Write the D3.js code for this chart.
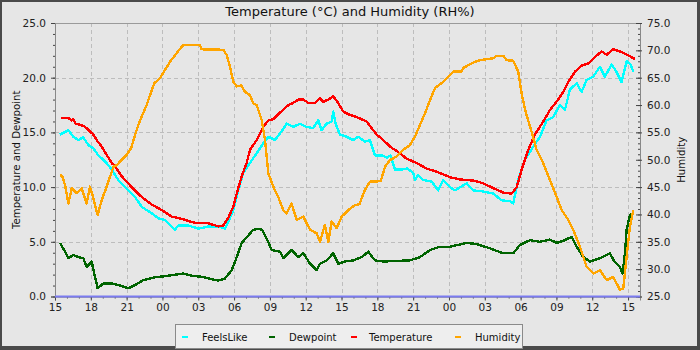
<!DOCTYPE html>
<html>
<head>
<meta charset="utf-8">
<script src="https://cdn.jsdelivr.net/npm/d3@7"></script>
<style>
  html, body { margin: 0; padding: 0; background: #4a4a4a; }
  svg { display: block; font-family: "DejaVu Sans", sans-serif; }
</style>
</head>
<body>
<svg id="chart" width="700" height="350"></svg>
<script>
// Hours since 15:00 on the first day, paired with readings.
const startTime = new Date(2024, 5, 10, 15, 0, 0);
const spanHours = 49;

const seriesNames = ["FeelsLike", "Dewpoint", "Temperature", "Humidity"];
const seriesColors = ["#00ffff", "#006400", "#ff0000", "#ffa500"];

const leftTicks = [0, 5, 10, 15, 20, 25];
const rightTicks = [25, 30, 35, 40, 45, 50, 55, 60, 65, 70, 75];

const feelsLike = [
  [0.42,14.8],[1.12,15.2],[1.53,14.6],[1.95,14.3],[2.37,14.55],[2.79,13.85],[3.21,13.55],[3.63,12.9],
  [4.05,12.5],[4.47,12.0],[4.75,11.6],[5.30,10.65],[5.86,10.0],[6.70,9.1],[7.26,8.2],[8.10,7.6],
  [8.65,7.15],[9.21,7.0],[10.05,6.1],[10.33,6.5],[11.17,6.5],[12.0,6.2],[12.84,6.4],[13.68,6.4],
  [14.24,6.2],[14.52,6.8],[14.93,7.9],[15.35,9.7],[15.77,11.3],[16.33,12.2],[16.89,13.1],[17.45,14.0],
  [17.87,14.6],[18.43,14.3],[18.98,15.1],[19.4,15.8],[19.96,15.5],[20.52,15.8],[21.08,15.5],[21.63,15.4],
  [22.05,16.1],[22.33,15.2],[22.75,15.8],[23.17,16.0],[23.31,16.9],[23.5,15.8],[23.87,14.8],[24.43,14.6],
  [24.98,14.3],[25.40,14.6],[25.96,14.15],[26.38,14.3],[26.8,12.9],[27.36,12.9],[27.8,12.7],[28.1,12.9],
  [28.48,11.6],[29.04,11.6],[29.5,11.7],[30.01,11.3],[30.15,10.65],[30.4,11.1],[30.85,10.65],[31.55,10.5],
  [32.1,9.7],[32.52,10.65],[33.08,10.0],[33.5,9.7],[34.48,10.35],[35.03,9.7],[35.87,9.6],[36.71,9.4],
  [37.41,8.8],[38.11,8.7],[38.38,8.5],[38.80,10.65],[39.36,12.5],[40.06,13.7],[40.62,14.6],[41.18,16.1],
  [41.73,16.4],[42.29,17.5],[42.71,17.05],[43.13,18.9],[43.69,19.5],[44.11,18.7],[44.53,19.8],[45.09,20.1],
  [45.64,21.0],[46.06,20.1],[46.62,21.2],[47.0,20.6],[47.46,19.6],[47.88,21.5],[48.2,21.2],[48.44,20.55]
];

const dewpoint = [
  [0.42,4.9],[0.84,4.1],[1.12,3.5],[1.53,3.8],[1.95,3.6],[2.37,3.5],[2.65,2.7],[3.07,3.2],
  [3.35,1.8],[3.57,0.75],[4.05,1.2],[4.75,1.2],[5.30,1.05],[5.72,0.9],[6.14,0.75],[6.70,1.05],
  [7.40,1.5],[8.38,1.75],[9.49,1.9],[10.75,2.1],[11.45,1.9],[12.28,1.8],[13.68,1.45],[14.24,1.65],
  [14.80,2.4],[15.22,3.6],[15.64,4.9],[16.05,5.4],[16.61,6.1],[17.17,6.2],[17.4,6.0],[17.73,5.3],
  [18.15,4.25],[18.84,4.1],[19.12,3.5],[19.82,4.25],[20.38,3.6],[20.80,3.95],[21.36,3.0],[21.92,2.4],
  [22.2,3.0],[22.75,3.3],[23.31,3.95],[23.73,3.0],[24.29,3.2],[24.98,3.3],[25.69,3.6],[26.24,4.1],
  [26.80,3.3],[27.5,3.2],[28.62,3.25],[29.73,3.3],[30.57,3.6],[31.41,4.25],[32.24,4.55],[33.08,4.55],
  [34.48,4.9],[35.32,4.8],[36.43,4.4],[37.55,3.95],[38.38,3.95],[38.94,4.7],[39.78,5.15],[40.62,5.0],
  [41.46,5.2],[42.02,4.9],[42.6,5.1],[43.27,5.45],[43.69,4.55],[44.25,3.6],[44.81,3.2],[45.64,3.5],
  [46.48,3.95],[46.8,3.3],[47.32,2.7],[47.54,2.1],[47.74,3.95],[47.88,6.1],[48.16,7.45],[48.49,7.6]
];

const temperature = [
  [0.50,16.3],[1.12,16.3],[1.40,16.1],[1.53,16.2],[1.73,15.8],[2.37,15.6],[2.65,15.4],[2.93,15.1],
  [3.21,14.8],[3.49,14.3],[3.91,13.7],[4.19,13.2],[4.47,12.7],[4.75,12.2],[5.03,11.9],[5.58,11.0],
  [6.42,10.0],[7.26,9.1],[8.10,8.4],[8.94,7.9],[9.77,7.3],[10.61,7.1],[11.45,6.8],[12.0,6.7],
  [12.84,6.7],[13.68,6.4],[14.10,6.5],[14.52,7.2],[14.93,8.2],[15.22,9.4],[15.64,11.0],[16.05,12.2],
  [16.33,13.4],[16.89,14.3],[17.45,15.5],[17.87,16.1],[18.28,16.2],[18.84,16.8],[19.26,17.2],[19.54,17.5],
  [19.96,17.7],[20.38,18.0],[20.8,18.0],[21.22,17.7],[21.78,17.7],[22.19,18.1],[22.47,17.8],[22.89,18.0],
  [23.31,18.3],[23.65,17.8],[24.15,16.9],[24.71,16.6],[25.27,16.4],[26.1,16.0],[26.52,15.4],[26.94,14.8],
  [27.5,14.3],[28.06,13.7],[28.75,13.2],[29.45,12.6],[30.29,12.2],[31.13,11.7],[31.97,11.4],[32.66,11.1],
  [33.08,10.9],[33.92,10.7],[35.03,10.6],[35.87,10.35],[36.71,9.9],[37.55,9.5],[38.25,9.4],[38.67,10.0],
  [39.09,11.6],[39.64,13.4],[40.20,14.8],[40.9,16.0],[41.46,17.05],[42.15,18.0],[42.57,18.7],[42.99,19.6],
  [43.55,20.55],[44.11,21.1],[44.67,21.3],[45.23,21.9],[45.79,22.4],[46.21,22.1],[46.76,22.6],[47.32,22.4],
  [47.74,22.2],[48.58,21.7]
];

const humidity = [
  [0.42,47.2],[0.6,47.0],[0.84,45.4],[1.12,42.0],[1.40,44.8],[1.82,43.9],[2.23,44.8],[2.65,42.0],
  [2.93,45.1],[3.21,43.0],[3.57,39.9],[3.91,42.6],[4.33,45.1],[4.61,46.9],[4.89,48.7],[5.17,49.0],
  [5.58,50.0],[6.00,50.9],[6.37,52.1],[6.70,54.5],[6.98,56.35],[7.32,58.2],[7.68,60.0],[7.96,61.8],
  [8.32,64.0],[8.79,64.9],[9.21,66.4],[9.63,67.9],[10.19,69.5],[10.75,71.0],[12.14,71.0],[12.28,70.2],
  [14.10,70.1],[14.38,69.15],[14.66,67.0],[14.93,64.3],[15.22,63.4],[15.6,63.6],[15.91,62.4],[16.33,61.8],
  [16.61,60.3],[16.89,60.0],[17.31,57.3],[17.59,53.6],[17.87,47.5],[18.28,45.1],[18.70,43.2],[19.12,40.8],
  [19.40,40.2],[19.82,42.0],[20.24,39.0],[20.80,39.6],[21.36,37.2],[21.92,36.55],[22.19,35.0],[22.61,38.1],
  [22.89,35.0],[23.17,38.7],[23.59,37.5],[24.01,39.6],[24.57,40.8],[25.13,41.7],[25.5,41.9],[25.96,44.5],
  [26.38,46.0],[26.94,46.0],[27.3,46.2],[27.64,48.7],[28.06,49.95],[28.62,50.6],[29.17,51.8],[29.73,52.7],
  [30.15,54.2],[30.57,56.35],[30.99,58.5],[31.41,60.9],[31.83,63.1],[32.38,64.0],[32.80,64.9],[33.36,66.1],
  [34.06,66.1],[34.2,66.8],[35.17,67.9],[35.59,68.2],[36.71,68.55],[36.99,69.0],[37.55,69.0],[37.83,68.2],
  [38.38,68.1],[38.80,66.1],[39.08,62.15],[39.45,58.5],[39.92,55.1],[40.34,51.8],[40.90,49.35],[41.46,46.3],
  [42.02,43.2],[42.44,40.8],[42.99,39.0],[43.41,37.2],[43.97,34.1],[44.53,30.45],[45.09,29.2],[45.64,29.8],
  [46.21,28.0],[46.76,28.6],[47.32,26.2],[47.6,26.5],[47.88,32.3],[48.16,37.8],[48.44,40.8]
];

// Rain gauge sits at zero for the whole period.
const rain = [[0, 0], [spanHours, 0]];

const W = 700, H = 350;
const plot = { left: 55, right: 640, top: 23, bottom: 296.5 };

const svg = d3.select("#chart");
const toDate = h => new Date(startTime.getTime() + h * 3600 * 1000);

const x = d3.scaleTime()
  .domain([startTime, toDate(spanHours)])
  .range([plot.left, plot.right]);
const yL = d3.scaleLinear().domain([0, 25]).range([plot.bottom, plot.top]);
const yR = d3.scaleLinear().domain([25, 75]).range([plot.bottom, plot.top]);

// Frame and panel
svg.append("rect").attr("x", 0).attr("y", 0).attr("width", W).attr("height", H).attr("fill", "#4a4a4a");
svg.append("rect").attr("x", 2).attr("y", 2).attr("width", W - 5).attr("height", H - 6).attr("fill", "#e6e6e6");
svg.append("rect")
  .attr("x", plot.left).attr("y", plot.top)
  .attr("width", plot.right - plot.left).attr("height", plot.bottom - plot.top)
  .attr("fill", "#e6e6e6");

// Grid
const grid = svg.append("g").attr("stroke", "#bdbdbd").attr("stroke-width", 1).attr("stroke-dasharray", "4,3");
const majorHours = d3.timeHour.every(3).range(startTime, toDate(spanHours + 0.01));
grid.selectAll("line.v").data(majorHours.slice(1)).join("line")
  .attr("x1", d => Math.round(x(d)) + 0.5).attr("x2", d => Math.round(x(d)) + 0.5)
  .attr("y1", plot.top).attr("y2", plot.bottom);
grid.selectAll("line.h").data(leftTicks.filter(v => v > 0 && v < 25)).join("line")
  .attr("x1", plot.left).attr("x2", plot.right)
  .attr("y1", d => Math.round(yL(d)) + 0.5).attr("y2", d => Math.round(yL(d)) + 0.5);

// Plot outline
svg.append("rect")
  .attr("x", plot.left + 0.5).attr("y", plot.top + 0.5)
  .attr("width", plot.right - plot.left).attr("height", plot.bottom - plot.top)
  .attr("fill", "none").attr("stroke", "#9a9a9a");

// Series, drawn without anti-aliasing for the hard-edged look
const lineL = d3.line().x(d => x(toDate(d[0]))).y(d => yL(d[1]));
const lineR = d3.line().x(d => x(toDate(d[0]))).y(d => yR(d[1]));
const series = [
  { data: feelsLike, gen: lineL, color: seriesColors[0] },
  { data: dewpoint, gen: lineL, color: seriesColors[1] },
  { data: temperature, gen: lineL, color: seriesColors[2] },
  { data: humidity, gen: lineR, color: seriesColors[3] }
];
svg.append("g").selectAll("path").data(series).join("path")
  .attr("d", s => s.gen(s.data))
  .attr("fill", "none")
  .attr("stroke", s => s.color)
  .attr("stroke-width", 2.4)
  .attr("stroke-linejoin", "round")
  .attr("shape-rendering", "crispEdges");

// Axes
const styleAxis = g => {
  g.select(".domain").attr("stroke", "#888888");
  g.selectAll(".tick line").attr("stroke", "#444");
  g.selectAll(".tick text").attr("fill", "#222").attr("font-size", 10.5).attr("font-family", "DejaVu Sans, sans-serif");
};

// Bottom: minor hourly ticks, labelled every three hours
svg.append("g")
  .attr("transform", `translate(0,${plot.bottom})`)
  .call(d3.axisBottom(x).ticks(d3.timeHour.every(1)).tickSize(2).tickFormat(""))
  .call(g => { g.select(".domain").remove(); g.selectAll(".tick line").attr("stroke", "#444"); });
svg.append("g")
  .attr("transform", `translate(0,${plot.bottom})`)
  .call(d3.axisBottom(x).tickValues(majorHours).tickSize(4).tickPadding(3).tickFormat(d3.timeFormat("%H")))
  .call(styleAxis);

// Left axis
svg.append("g")
  .attr("transform", `translate(${plot.left},0)`)
  .call(d3.axisLeft(yL).tickValues(d3.range(0, 26, 1)).tickSize(2).tickFormat(""))
  .call(g => { g.select(".domain").remove(); g.selectAll(".tick line").attr("stroke", "#444"); });
svg.append("g")
  .attr("transform", `translate(${plot.left},0)`)
  .call(d3.axisLeft(yL).tickValues(leftTicks).tickSize(4).tickPadding(5).tickFormat(d3.format(".1f")))
  .call(styleAxis);

// Right axis (ticks point into the plot)
svg.append("g")
  .attr("transform", `translate(${plot.right},0)`)
  .call(d3.axisLeft(yR).tickValues(d3.range(25, 76, 1)).tickSize(2).tickFormat(""))
  .call(g => { g.select(".domain").remove(); g.selectAll(".tick line").attr("stroke", "#444"); });
svg.append("g")
  .attr("transform", `translate(${plot.right},0)`)
  .call(d3.axisRight(yR).tickValues(rightTicks).tickSize(2).tickPadding(5).tickFormat(d3.format(".1f")))
  .call(styleAxis)
  .call(g => g.selectAll(".tick line").attr("x1", -4));

// Rain series: a flat line along zero, above the axis line
svg.append("path")
  .attr("d", lineL(rain))
  .attr("fill", "none").attr("stroke", "#7b7bf0").attr("stroke-width", 2);

// Titles
svg.append("text")
  .attr("x", 350).attr("y", 15.5)
  .attr("text-anchor", "middle").attr("font-size", 13).attr("fill", "#111")
  .text("Temperature (°C) and Humidity (RH%)");

svg.append("text")
  .attr("transform", `translate(20,${(plot.top + plot.bottom) / 2}) rotate(-90)`)
  .attr("text-anchor", "middle").attr("font-size", 10.2).attr("fill", "#111")
  .text("Temperature and Dewpoint");

svg.append("text")
  .attr("transform", `translate(685,${(plot.top + plot.bottom) / 2}) rotate(-90)`)
  .attr("text-anchor", "middle").attr("font-size", 10.2).attr("fill", "#111")
  .text("Humidity");

// Legend
const legend = svg.append("g");
legend.append("rect")
  .attr("x", 175.5).attr("y", 324.5).attr("width", 347).attr("height", 24)
  .attr("fill", "#eeeeee").attr("stroke", "#8a8a8a");
const legendX = [182, 269, 351, 455];
const items = legend.selectAll("g.item").data(seriesNames).join("g")
  .attr("transform", (d, i) => `translate(${legendX[i]},337)`);
items.append("rect")
  .attr("x", 0).attr("y", -1).attr("width", 6).attr("height", 2)
  .attr("fill", (d, i) => seriesColors[i]);
items.append("text")
  .attr("x", (d, i) => i === 2 ? 18 : 20).attr("y", 4)
  .attr("font-size", 10).attr("fill", "#111")
  .text(d => d);
</script>
</body>
</html>
